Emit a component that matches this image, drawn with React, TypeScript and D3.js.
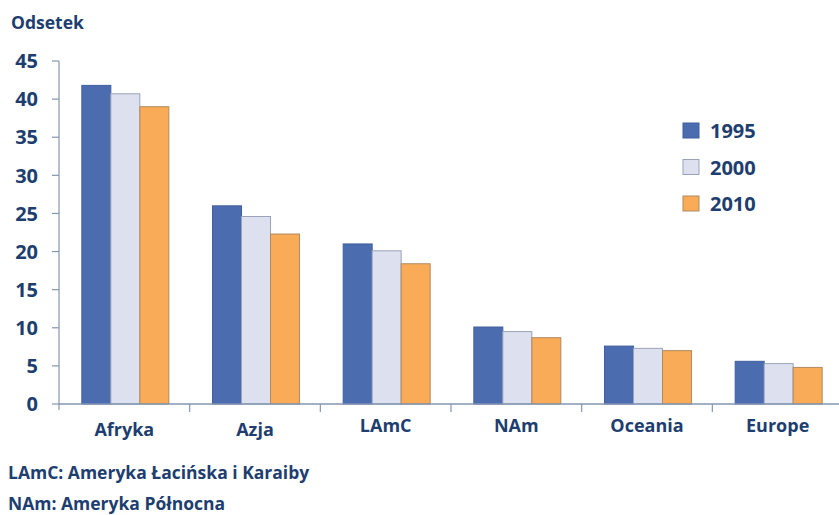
import React from "react";
import * as d3 from "d3";

const categories = ["Afryka", "Azja", "LAmC", "NAm", "Oceania", "Europe"];
const seriesNames = ["1995", "2000", "2010"];
const values1995 = [41.8, 26.0, 21.0, 10.1, 7.6, 5.6];
const values2000 = [40.7, 24.6, 20.1, 9.5, 7.3, 5.3];
const values2010 = [39.0, 22.3, 18.4, 8.7, 7.0, 4.8];
const yTicks = [0, 5, 10, 15, 20, 25, 30, 35, 40, 45];
const footnotes = ["LAmC: Ameryka Łacińska i Karaiby", "NAm: Ameryka Północna"];
const labelBaselines = [436, 436, 432, 432, 432, 432];

const fills = ["#4b6db0", "#dde0ef", "#f9ab58"];
const strokes = ["#3f5f9e", "#9aa3b8", "#b08a60"];
const textColor = "#1d3e6f";
const axisColor = "#8396b2";
const font = "'Open Sans', 'DejaVu Sans', sans-serif";

export default function App() {
  const W = 839, H = 515;
  const x0 = 59, x1 = 843;
  const y = d3.scaleLinear().domain([0, 45]).range([404, 61]);
  const x = d3.scaleBand<string>().domain(categories).range([x0, x1]);
  const inner = d3.scaleBand<string>().domain(seriesNames).range([0, 87]);
  const series = [values1995, values2000, values2010];
  const bw = x.bandwidth();

  return (
    <svg width={W} height={H} style={{ position: "absolute", left: 0, top: 0, background: "#fff" }}
      fontFamily={font}>
      <text x={11} y={29} fontSize={17.5} fontWeight={700} fill={textColor}>Odsetek</text>
      {/* y axis */}
      <line x1={x0} x2={x0} y1={y(45)} y2={y(0) + 6} stroke={axisColor} strokeWidth={1.2} />
      {yTicks.map((t) => (
        <g key={t}>
          <line x1={x0 - 7} x2={x0} y1={y(t)} y2={y(t)} stroke={axisColor} strokeWidth={1.2} />
          <text x={38} y={y(t)} dy="0.36em" textAnchor="end" fontSize={20} fontWeight={700} fill={textColor}>{t}</text>
        </g>
      ))}
      {/* bars */}
      {categories.map((c, i) => (
        <g key={c} transform={`translate(${(x(c) as number) + (bw - 87) / 2 + 1},0)`}>
          {series.map((s, j) => (
            <rect key={j} x={inner(seriesNames[j]) as number} y={y(s[i])} width={inner.bandwidth()}
              height={y(0) - y(s[i])} fill={fills[j]} stroke={strokes[j]} strokeWidth={1} />
          ))}
        </g>
      ))}
      {/* x axis */}
      <line x1={x0} x2={x1} y1={y(0)} y2={y(0)} stroke={axisColor} strokeWidth={1.5} />
      {categories.map((c, i) => (
        <g key={c}>
          {i > 0 && <line x1={x(c) as number} x2={x(c) as number} y1={y(0)} y2={y(0) + 8} stroke={axisColor} strokeWidth={1.2} />}
          <text x={(x(c) as number) + bw / 2} y={labelBaselines[i]} textAnchor="middle" fontSize={18} fontWeight={700} fill={textColor}>{c}</text>
        </g>
      ))}
      {/* legend */}
      {seriesNames.map((n, j) => (
        <g key={n} transform={`translate(683,${123 + j * 36.5})`}>
          <rect x={0} y={0} width={16} height={15} fill={fills[j]} stroke={strokes[j]} strokeWidth={1} />
          <text x={27} y={8} dy="0.36em" fontSize={20} fontWeight={700} fill={textColor}>{n}</text>
        </g>
      ))}
      {footnotes.map((f, k) => (
        <text key={k} x={8} y={479 + k * 31} fontSize={17.5} fontWeight={700} fill={textColor}>{f}</text>
      ))}
    </svg>
  );
}
